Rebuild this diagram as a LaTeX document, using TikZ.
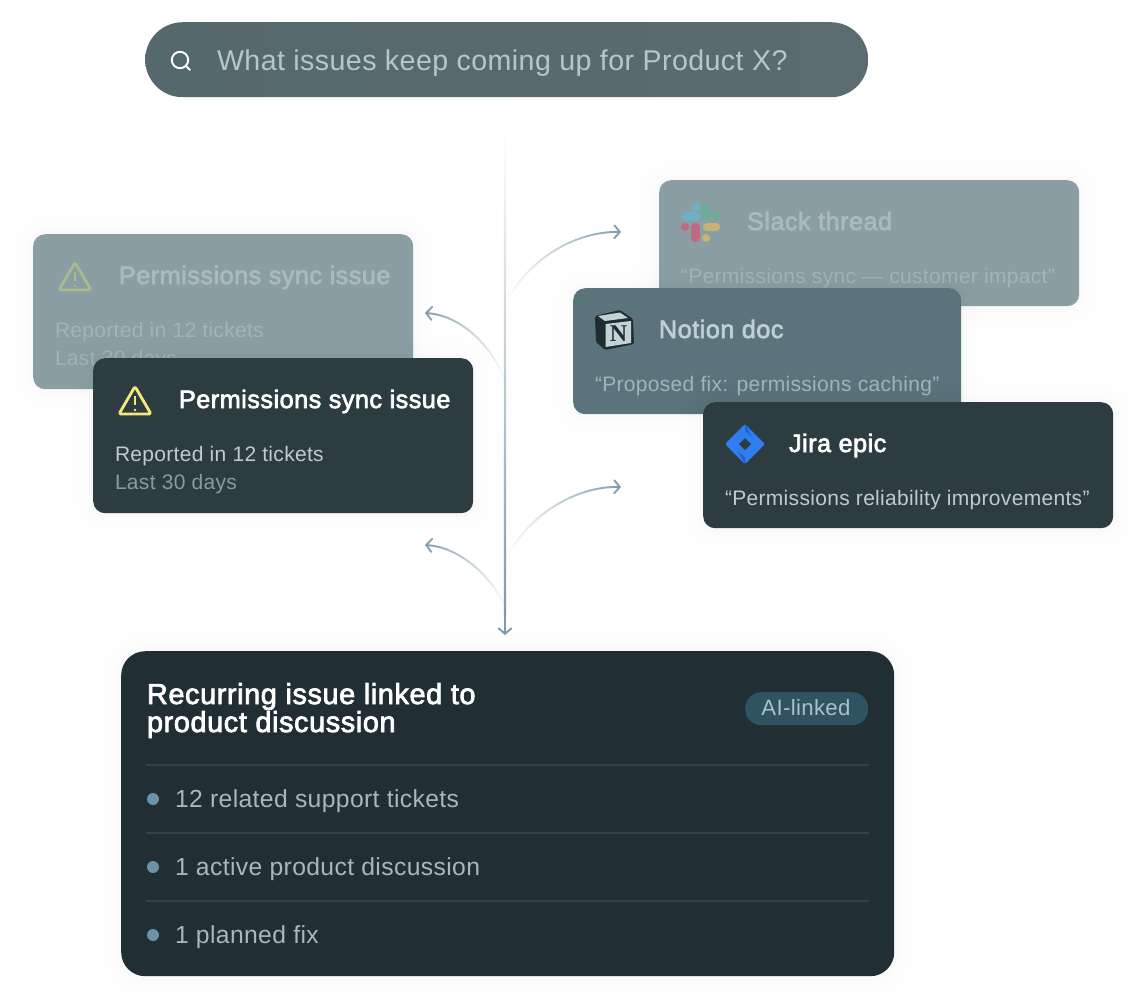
\documentclass[tikz,border=0pt]{standalone}
\usepackage{fontspec}
\setmainfont{Liberation Sans}[LetterSpace=1.5]
\newfontfamily\medfont[FakeBold=2.6,LetterSpace=2]{Liberation Sans}
\newfontfamily\notionfont{Liberation Serif}
\usetikzlibrary{arrows.meta,fadings,shapes.geometric}
\definecolor{inkflow}{HTML}{7F9BA7}
\definecolor{fadedcard}{HTML}{8A9EA3}
\definecolor{notioncard}{HTML}{5B747C}
\definecolor{darkcard}{HTML}{2D3C41}
\definecolor{summarycard}{HTML}{212E33}
\definecolor{searchL}{HTML}{55686E}
\definecolor{searchR}{HTML}{5A6B71}
\definecolor{searchtext}{HTML}{B4C7CC}
\definecolor{fadedtitle}{HTML}{AABBBF}
\definecolor{fadedbody}{HTML}{A2B4B8}
\definecolor{notiontitle}{HTML}{BFCFD3}
\definecolor{notionbody}{HTML}{A0B4BA}
\definecolor{bodylight}{HTML}{C0CBCE}
\definecolor{bodydim}{HTML}{8A9A9E}
\definecolor{sumtext}{HTML}{A9B7BA}
\definecolor{divider}{HTML}{354349}
\definecolor{pillfill}{HTML}{2F5361}
\definecolor{pilltext}{HTML}{A8C2CC}
\definecolor{bullet}{HTML}{6B92A6}
\definecolor{warnbright}{HTML}{F4E97F}
\definecolor{warnfaded}{HTML}{ABBA8E}
\definecolor{jirablue}{HTML}{2F7DF0}
\definecolor{jiradeep}{HTML}{1F5FD0}
\definecolor{notionlight}{HTML}{C5D2D4}
\definecolor{notiondark}{HTML}{1F2C30}
\definecolor{slackblue}{HTML}{6FB0C6}
\definecolor{slackgreen}{HTML}{6CAE9A}
\definecolor{slackred}{HTML}{BF6A85}
\definecolor{slackyellow}{HTML}{C6B572}
\tikzfading[name=fadeToRight,left color=transparent!100,middle color=transparent!15,right color=transparent!0]
\tikzfading[name=fadeToLeft,left color=transparent!0,middle color=transparent!15,right color=transparent!100]
\tikzset{
  softshadow/.style={
    preaction={draw=black,draw opacity=.003,fill=none,line width=44pt,line join=round,yshift=-5pt},
    preaction={draw=black,draw opacity=.004,fill=none,line width=30pt,line join=round,yshift=-5pt},
    preaction={draw=black,draw opacity=.005,fill=none,line width=18pt,line join=round,yshift=-4pt},
    preaction={draw=black,draw opacity=.006,fill=none,line width=8pt,line join=round,yshift=-3pt}},
  card/.style={rectangle,rounded corners=12pt,anchor=north west,inner sep=0pt,softshadow},
  lbl/.style={anchor=base west,inner sep=0pt,outer sep=0pt},
  cardtitle/.style={lbl,font=\medfont\fontsize{25.2}{28}\selectfont},
  cardbody/.style={lbl,font=\fontsize{21}{24}\selectfont},
  sumbody/.style={lbl,font=\fontsize{24.7}{28}\selectfont,text=sumtext},
  flow/.style={draw=inkflow,line width=1.9pt,-{Straight Barb[length=5.5pt,width=13pt,line cap=round]}},
  flowR/.style={flow,path fading=fadeToRight},
  flowL/.style={flow,path fading=fadeToLeft},
  warnline/.style={line width=2.8pt,line join=round,line cap=round,fill=none,rounded corners=1.5pt},
  dot/.style={circle,fill=bullet,minimum size=12pt,inner sep=0pt},
  divline/.style={draw=divider,line width=1.5pt},
  slackpill/.style={line width=8.4pt,line cap=round},
}
\begin{document}
\begin{tikzpicture}[x=1pt,y=-1pt]
\useasboundingbox[fill=white] (0,0) rectangle (1146,994);

% search bar
\node[rectangle,rounded corners=37.5pt,anchor=north west,inner sep=0pt,minimum width=723pt,minimum height=75pt,left color=searchL,right color=searchR] (searchbar) at (145,22) {};
\draw[white,line width=1.9pt] (180,60) circle (8.2pt);
\draw[white,line width=1.9pt,line cap=round] (186,66) -- (190,70);
\node[lbl,text=searchtext,font=\fontsize{28.6}{32}\selectfont] (searchtext) at (217,70) {What issues keep coming up for Product X?};

% connectors
\coordinate (stemEnd) at (505,635);
\coordinate (l1from) at (505,380);
\coordinate (l1tip) at (425,313);
\coordinate (r1from) at (507,302);
\coordinate (r1tip) at (621,232);
\coordinate (l2from) at (505,606);
\coordinate (l2tip) at (425,545);
\coordinate (r2from) at (507,558);
\coordinate (r2tip) at (621,487);
\node[rectangle,anchor=north,inner sep=0pt,minimum width=2.1pt,minimum height=488pt,top color=white,middle color=inkflow!58!white,bottom color=inkflow] (stem) at (505,127) {};
\draw[flow] (stem.south) -- (stemEnd);
\draw[flowR] (r1from) .. controls (527,260) and (575,231) .. (r1tip);
\draw[flowR] (r2from) .. controls (527,516) and (575,486) .. (r2tip);
\draw[flowL] (l1from) .. controls (490,342) and (458,315) .. (l1tip);
\draw[flowL] (l2from) .. controls (490,574) and (458,547) .. (l2tip);

% faded issue card
\node[card,fill=fadedcard,minimum width=380pt,minimum height=155pt] (issueBack) at (33,234) {};
\draw[warnline,draw=warnfaded] (75,262.5) -- (91,290) -- (59,290) -- cycle;
\draw[warnfaded,line width=2.4pt] (75,272) -- (75,281);
\fill[warnfaded] (75,286) circle (1.4pt);
\node[cardtitle,text=fadedtitle] (issueBackTitle) at (119,284) {Permissions sync issue};
\node[cardbody,text=fadedbody] (issueBackA) at (55,337) {Reported in 12 tickets};
\node[cardbody,text=fadedbody] (issueBackB) at (55,365) {Last 30 days};

% dark issue card
\node[card,fill=darkcard,minimum width=380pt,minimum height=155pt] (issueFront) at (93,358) {};
\draw[warnline,draw=warnbright] (135,386.5) -- (151,414) -- (119,414) -- cycle;
\draw[warnbright,line width=2.4pt] (135,396) -- (135,405);
\fill[warnbright] (135,410) circle (1.4pt);
\node[cardtitle,text=white] (issueFrontTitle) at (179,408) {Permissions sync issue};
\node[cardbody,text=bodylight] (issueFrontA) at (115,461) {Reported in 12 tickets};
\node[cardbody,text=bodydim] (issueFrontB) at (115,489) {Last 30 days};

% slack card
\node[card,fill=fadedcard,minimum width=420pt,minimum height=126pt] (slack) at (659,180) {};
\draw[slackpill,draw=slackblue] (686,216.5) -- (696,216.5);
\draw[slackpill,draw=slackblue] (696,207) -- (696.01,207);
\draw[slackpill,draw=slackgreen] (705.5,207) -- (705.5,216);
\draw[slackpill,draw=slackgreen] (716,216) -- (716.01,216);
\draw[slackpill,draw=slackred] (695.5,227) -- (695.5,238);
\draw[slackpill,draw=slackred] (685,227) -- (685.01,227);
\draw[slackpill,draw=slackyellow] (707,227) -- (716,227);
\draw[slackpill,draw=slackyellow] (706,238) -- (706.01,238);
\node[cardtitle,text=fadedtitle] (slackTitle) at (747,230) {Slack thread};
\node[cardbody,text=fadedbody] (slackBody) at (681,283) {“Permissions sync — customer impact”};

% notion card
\node[card,fill=notioncard,minimum width=388pt,minimum height=126pt] (notion) at (573,288) {};
\fill[notiondark,rounded corners=1.5pt] (595,316) -- (620,310) -- (633,319) -- (634,344) -- (605,350) -- (596,342) -- cycle;
\fill[notionlight] (598,316) -- (620,312.5) -- (628,318) -- (605,321) -- cycle;
\fill[notionlight] (605.5,324) -- (631,321) -- (631,343) -- (605.5,347) -- cycle;
\node[inner sep=0pt,text=notiondark,font=\notionfont\bfseries\fontsize{24}{24}\selectfont] (notionN) at (618.5,334) {N};
\node[cardtitle,text=notiontitle] (notionTitle) at (659,338) {Notion doc};
\node[cardbody,text=notionbody] (notionBody) at (595,391) {“Proposed fix: permissions caching”};

% jira card
\node[card,fill=darkcard,minimum width=410pt,minimum height=126pt] (jira) at (703,402) {};
\fill[jirablue,rounded corners=2pt] (745,424) -- (765,444) -- (745,464) -- (725,444) -- cycle;
\fill[jiradeep] (745,424) -- (752,437) -- (745,431) -- cycle;
\fill[jiradeep] (745,464) -- (738,451) -- (745,457) -- cycle;
\fill[darkcard] (745,438) -- (751,444) -- (745,450) -- (739,444) -- cycle;
\node[cardtitle,text=white] (jiraTitle) at (789,452) {Jira epic};
\node[cardbody,text=bodylight] (jiraBody) at (725,505) {“Permissions reliability improvements”};

% summary card
\node[card,rounded corners=24pt,fill=summarycard,minimum width=773pt,minimum height=325pt] (summary) at (121,651) {};
\node[lbl,text=white,font=\medfont\fontsize{28.9}{28}\selectfont] (sumTitleA) at (147,704) {Recurring issue linked to};
\node[lbl,text=white,font=\medfont\fontsize{28.9}{28}\selectfont] (sumTitleB) at (147,732) {product discussion};
\node[rectangle,rounded corners=16pt,fill=pillfill,anchor=north west,inner sep=0pt,minimum width=123pt,minimum height=33pt] (pill) at (745,692) {};
\node[inner sep=0pt,text=pilltext,font=\fontsize{22.2}{28}\selectfont] (pillText) at (806,708) {AI-linked};
\coordinate (d1a) at (146,765); \coordinate (d1b) at (869,765);
\coordinate (d2a) at (146,833); \coordinate (d2b) at (869,833);
\coordinate (d3a) at (146,901); \coordinate (d3b) at (869,901);
\draw[divline] (d1a) -- (d1b);
\draw[divline] (d2a) -- (d2b);
\draw[divline] (d3a) -- (d3b);
\node[dot] (b1) at (153,799) {};
\node[dot] (b2) at (153,867) {};
\node[dot] (b3) at (153,935) {};
\node[sumbody] (t1) at (175,807) {12 related support tickets};
\node[sumbody] (t2) at (175,875) {1 active product discussion};
\node[sumbody] (t3) at (175,943) {1 planned fix};
\end{tikzpicture}
\end{document}
